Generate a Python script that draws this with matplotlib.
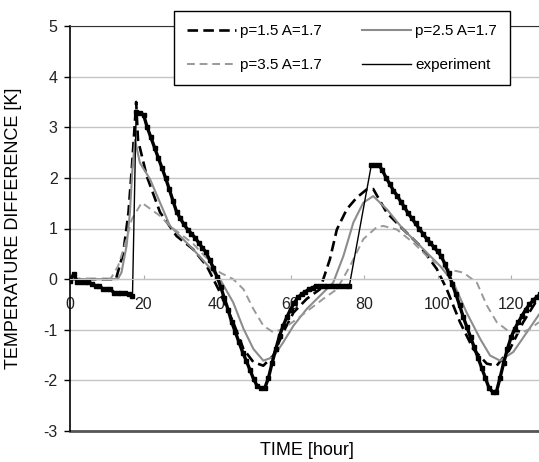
import numpy as np
import matplotlib.pyplot as plt

plt.rcParams['font.family'] = ['Liberation Sans', 'DejaVu Sans']
plt.rcParams['axes.unicode_minus'] = False

# measured data (hourly readings)
exp_time = [0, 1, 2, 3, 4, 5, 6, 7, 8, 9, 10, 11, 12, 13, 14, 15, 16, 17,
            18, 19, 20, 21, 22, 23, 24, 25, 26, 27, 28, 29, 30, 31, 32, 33, 34,
            35, 36, 37, 38, 39, 40, 41, 42, 43, 44, 45, 46, 47, 48, 49, 50, 51,
            52, 53, 54, 55, 56, 57, 58, 59, 60, 61, 62, 63, 64, 65, 66, 67, 68,
            69, 70, 71, 72, 73, 74, 75, 76,
            82, 83, 84, 85, 86, 87, 88, 89, 90, 91, 92, 93, 94, 95, 96, 97, 98,
            99, 100, 101, 102, 103, 104, 105, 106, 107, 108, 109, 110, 111, 112,
            113, 114, 115, 116, 117, 118, 119, 120, 121, 122, 123, 124, 125, 126,
            127, 128]
exp_temp = [-0.03, 0.1, -0.05, -0.05, -0.05, -0.05, -0.1, -0.13, -0.13, -0.2,
            -0.2, -0.2, -0.27, -0.27, -0.27, -0.27, -0.3, -0.33,
            3.3, 3.28, 3.25, 3.0, 2.8, 2.6, 2.4, 2.2, 2.0, 1.78, 1.55, 1.33, 1.2,
            1.08, 0.98, 0.9, 0.82, 0.72, 0.62, 0.53, 0.38, 0.22, 0.05, -0.15,
            -0.38, -0.6, -0.85, -1.05, -1.25, -1.45, -1.62, -1.8, -1.98, -2.12,
            -2.15, -2.15, -1.95, -1.65, -1.38, -1.12, -0.92, -0.75, -0.6, -0.47,
            -0.36, -0.3, -0.25, -0.2, -0.17, -0.13, -0.13, -0.13, -0.13, -0.13,
            -0.13, -0.13, -0.13, -0.13, -0.13,
            2.26, 2.26, 2.26, 2.15, 2.0, 1.88, 1.75, 1.65, 1.53, 1.42, 1.3, 1.2,
            1.1, 1.0, 0.9, 0.8, 0.72, 0.63, 0.55, 0.45, 0.3, 0.12, -0.1, -0.3,
            -0.52, -0.75, -0.95, -1.15, -1.35, -1.55, -1.75, -1.95, -2.15,
            -2.23, -2.23, -1.95, -1.65, -1.38, -1.15, -0.98, -0.85, -0.72, -0.6,
            -0.5, -0.42, -0.35, -0.3]

# model p=1.5 A=1.7
p15_time = [0, 12.5, 14.5, 15.9, 16.8, 17.4, 18, 18.5, 20.9, 24.5, 29, 33.5,
            37.2, 40.8, 44.4, 47.2, 49.9, 52.6, 55.3, 58, 60.8, 64.4, 68, 70.7,
            72.6, 75.3, 78, 80.7, 82.5, 86.2, 90.7, 95.2, 99.8, 102.5, 106.1,
            109.7, 113.4, 116.1, 119.7, 123.3, 127.6]
p15_temp = [0, 0, 0.52, 1.31, 2.17, 2.82, 3.5, 2.75, 2.03, 1.32, 0.85, 0.59,
            0.26, -0.26, -0.85, -1.38, -1.64, -1.71, -1.51, -1.05, -0.66, -0.39,
            -0.2, 0.39, 0.98, 1.38, 1.61, 1.77, 1.78, 1.31, 0.98, 0.66, 0.2,
            -0.2, -0.85, -1.38, -1.67, -1.71, -1.38, -0.85, -0.35]

# model p=2.5 A=1.7
p25_time = [0, 13, 14, 15.4, 16.3, 17, 17.7, 19, 21.8, 27.2, 33.5, 40.8, 44.4,
            47.2, 49.9, 52.6, 55.3, 58, 60.8, 64.4, 68, 71.6, 74.4, 77.1, 79.8,
            82.5, 86.2, 90.7, 95.2, 100.7, 104.3, 107.9, 111.6, 114.3, 117,
            120.6, 124.3, 127.6]
p25_temp = [0, 0, 0.13, 0.66, 1.31, 2.2, 2.75, 2.3, 1.97, 1.05, 0.59, 0, -0.46,
            -0.98, -1.38, -1.61, -1.54, -1.25, -0.92, -0.59, -0.33, -0.07, 0.46,
            1.12, 1.51, 1.64, 1.38, 0.98, 0.66, 0.26, -0.07, -0.66, -1.18, -1.51,
            -1.61, -1.44, -1.05, -0.7]

# model p=3.5 A=1.7
p35_time = [0, 11, 13.1, 15.4, 16.8, 19.5, 24.5, 27.2, 33.5, 40.8, 44.4, 47.2,
            49.9, 52.6, 55.3, 58, 61.7, 65.3, 68.9, 72.6, 76.2, 79.8, 83.5, 85.3,
            88.9, 93.4, 98, 102.5, 107, 110.7, 113.4, 116.1, 119.7, 122.5, 125.2,
            127.6]
p35_temp = [0, 0, 0.26, 0.79, 1.18, 1.51, 1.25, 1.05, 0.7, 0.13, 0, -0.2, -0.59,
            -0.92, -1.05, -0.98, -0.79, -0.59, -0.39, -0.2, 0.26, 0.79, 1.03,
            1.05, 0.98, 0.72, 0.39, 0.2, 0.13, -0.07, -0.52, -0.85, -1.05, -1.07,
            -0.98, -0.85]

fig = plt.figure(figsize=(5.39, 4.62), dpi=100)
ax = fig.add_axes([70 / 539, 31 / 462, 1 - 70 / 539, 405 / 462])

ax.plot(p15_time, p15_temp, color='black', lw=1.9, dashes=(4, 2),
        label='p=1.5 A=1.7')
ax.plot(p25_time, p25_temp, color='#8c8c8c', lw=1.5, label='p=2.5 A=1.7')
ax.plot(p35_time, p35_temp, color='#999999', lw=1.4, dashes=(4, 2.5),
        label='p=3.5 A=1.7')

# experiment: thin line through every reading, heavy line where readings
# are dense (the logger gaps stay as thin connecting lines)
ax.plot(exp_time, exp_temp, color='black', lw=1.0, label='experiment')
et = np.array(exp_time, dtype=float)
ev = np.array(exp_temp, dtype=float)
jump = (np.abs(np.diff(ev)) > 1.0) | (np.diff(et) > 1.5)
ht, hv = [et[0]], [ev[0]]
for i in range(1, len(et)):
    if jump[i - 1]:
        ht.append(np.nan)
        hv.append(np.nan)
    ht.append(et[i])
    hv.append(ev[i])
ax.plot(ht, hv, color='black', lw=2.4)
ax.plot(et, ev, ls='none', marker='s', ms=3.0, color='black')

ax.set_xlim(0, 127.6)
ax.set_ylim(-3, 5)
ax.set_yticks(range(-3, 6))
ax.set_xticks(range(0, 121, 20))
ax.set_axisbelow(True)
ax.grid(axis='y', color='#c4c4c4', lw=1.0)

ax.spines['bottom'].set_position(('data', 0))
ax.spines['bottom'].set_color('#c4c4c4')
ax.spines['right'].set_visible(False)
ax.spines['top'].set_color('#333333')
ax.spines['top'].set_linewidth(0.8)
ax.spines['left'].set_linewidth(1.2)
ax.axhline(-3, color='#555555', lw=2.0, clip_on=False)

ax.tick_params(axis='y', direction='out', length=4, width=1.0, pad=5,
               labelsize=11.5, labelcolor='#222222')
ax.tick_params(axis='x', direction='in', length=3, width=0.8, color='#b0b0b0',
               pad=13, labelsize=11.5, labelcolor='#222222')

ax.set_ylabel('TEMPERATURE DIFFERENCE [K]', fontsize=13)
ax.yaxis.set_label_coords(-0.102, 0.5)
fig.text(0.57, 0.025, 'TIME [hour]', fontsize=13, ha='center', va='center')

handles, labels = ax.get_legend_handles_labels()
order = [0, 2, 1, 3]
leg = ax.legend([handles[i] for i in order], [labels[i] for i in order],
                ncol=2, loc='upper left',
                bbox_to_anchor=(174 / 539, 1 - 11 / 462),
                bbox_transform=fig.transFigure, borderaxespad=0,
                fontsize=11, frameon=True, fancybox=False, edgecolor='black',
                framealpha=1, handlelength=3.2, handletextpad=0.3,
                columnspacing=2.6, labelspacing=1.3, borderpad=0.85)
leg.get_frame().set_linewidth(1.0)
leg.set_zorder(5)

fig.savefig('out.png', dpi=100)
